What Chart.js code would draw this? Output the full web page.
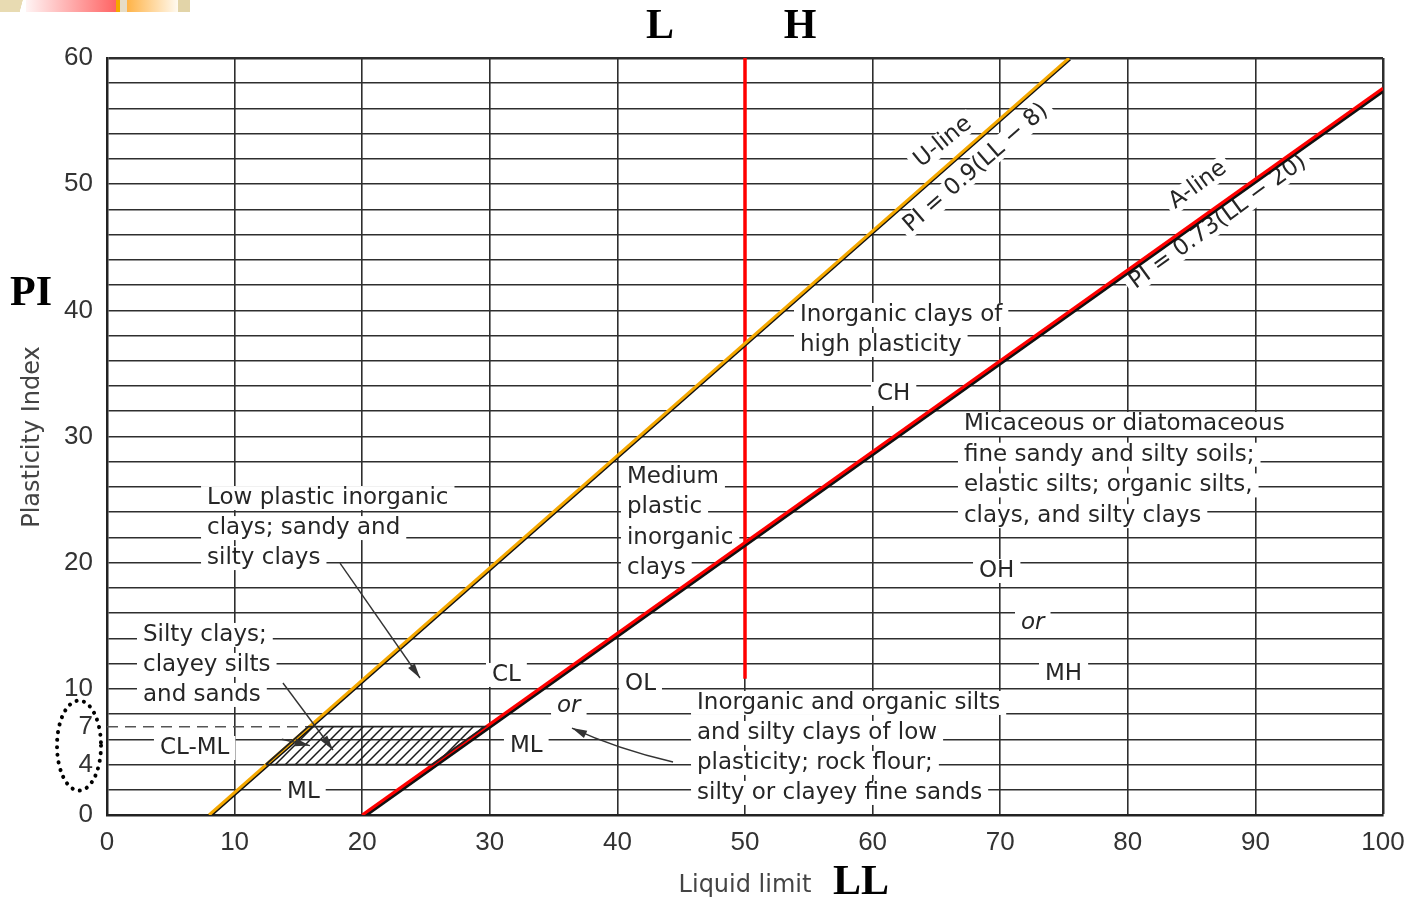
<!DOCTYPE html>
<html>
<head>
<meta charset="utf-8">
<title>Plasticity chart</title>
<script src="https://cdn.jsdelivr.net/npm/chart.js@4.4.0/dist/chart.umd.min.js"></script>
<style>
  body { margin: 0; background: #fff; }
  #wrap { position: relative; width: 1405px; height: 901px; }
  .strip { position: absolute; top: 0; height: 12px; }
</style>
</head>
<body>
<div id="wrap">
  <canvas id="plasticityChart"></canvas>
  <div class="strip" style="left:0;width:25px;background:linear-gradient(105deg,#e8dbb2 80%,#fff 82%)"></div>
  <div class="strip" style="left:26px;width:90px;background:linear-gradient(90deg,#fff4f4,#ff6464)"></div>
  <div class="strip" style="left:116px;width:4px;background:#f5a800"></div>
  <div class="strip" style="left:120px;width:7px;background:#e6dcc6"></div>
  <div class="strip" style="left:127px;width:51px;background:linear-gradient(90deg,#ffb347,#fffaf0)"></div>
  <div class="strip" style="left:178px;width:12px;background:#e2d4a8"></div>
</div>
<script>
// line data (LL on x, PI on y)
var uLineLL = [8, 75.4];
var uLinePI = [0, 60];
var aLineLL = [20, 100];
var aLinePI = [0, 57.6];
var splitLL = [50, 50];
var splitPI = [10.8, 60];
var clmlLL = [12.44, 25.48, 29.59, 15.78, 12.44];
var clmlPI = [4, 4, 7, 7, 4];
var dashLL = [0, 15.78];
var dashPI = [7, 7];

// axis ticks
var xTicks = [0, 10, 20, 30, 40, 50, 60, 70, 80, 90, 100];
var yGrid = [0, 2, 4, 6, 7, 8, 10, 12, 14, 16, 18, 20, 22, 24, 26, 28, 30, 32, 34, 36, 38, 40, 42, 44, 46, 48, 50, 52, 54, 56, 58, 60];
var yTickLabels = [0, 4, 7, 10, 20, 30, 40, 50, 60];

function pts(xs, ys) {
  return xs.map(function (v, i) { return { x: v, y: ys[i] }; });
}

function hatchPattern() {
  var c = document.createElement('canvas');
  c.width = 10; c.height = 10;
  var g = c.getContext('2d');
  g.strokeStyle = '#1a1a1a';
  g.lineWidth = 1.5;
  g.beginPath();
  g.moveTo(0, 10); g.lineTo(10, 0);
  g.moveTo(-5, 5); g.lineTo(5, -5);
  g.moveTo(5, 15); g.lineTo(15, 5);
  g.stroke();
  return g.createPattern(c, 'repeat');
}

var labelFont = '23px "DejaVu Sans"';
var labels = [
  { lines: ['Low plastic inorganic', 'clays; sandy and', 'silty clays'], ll: 7.84, pi: 25.12, gap: 30 },
  { lines: ['Silty clays;', 'clayey silts', 'and sands'], ll: 2.82, pi: 14.27, gap: 30 },
  { lines: ['CL-ML'], ll: 4.15, pi: 5.31 },
  { lines: ['ML'], ll: 14.11, pi: 1.82 },
  { lines: ['CL'], ll: 30.17, pi: 11.1 },
  { lines: ['or'], ll: 35.27, pi: 8.64, italic: true },
  { lines: ['ML'], ll: 31.58, pi: 5.47 },
  { lines: ['OL'], ll: 40.6, pi: 10.38 },
  { lines: ['Inorganic and organic silts', 'and silty clays of low', 'plasticity; rock flour;', 'silty or clayey fine sands'], ll: 46.24, pi: 8.88, gap: 30 },
  { lines: ['Medium', 'plastic', 'inorganic', 'clays'], ll: 40.75, pi: 26.79, gap: 30.3 },
  { lines: ['Inorganic clays of', 'high plasticity'], ll: 54.31, pi: 39.63, gap: 30 },
  { lines: ['CH'], ll: 60.34, pi: 33.37 },
  { lines: ['Micaceous or diatomaceous', 'fine sandy and silty soils;', 'elastic silts; organic silts,', 'clays, and silty clays'], ll: 67.16, pi: 30.99, gap: 30.7 },
  { lines: ['OH'], ll: 68.34, pi: 19.34 },
  { lines: ['or'], ll: 71.63, pi: 15.22, italic: true },
  { lines: ['MH'], ll: 73.51, pi: 11.18 }
];
var slanted = [
  { text: 'U-line', ll: 65.52, pi: 53.34, angle: -39 },
  { text: 'PI = 0.9(LL \u2212 8)', ll: 68.1, pi: 51.28, angle: -41 },
  { text: 'A-line', ll: 85.5, pi: 49.93, angle: -36 },
  { text: 'PI = 0.73(LL \u2212 20)', ll: 87.07, pi: 47.0, angle: -36 }
];
var arrows = [
  { from: [18.26, 19.97], to: [24.53, 10.86] },
  { from: [13.79, 10.46], to: [17.71, 5.15] },
  { from: [13.7, 6.0], to: [15.9, 5.5] },
  { from: [44.36, 4.2], ctrl: [40.0, 5.23], to: [36.44, 6.89] }
];

var labelPlugin = {
  id: 'regionLabels',
  beforeDatasetsDraw: function (chart) {
    var ctx = chart.ctx, xs = chart.scales.x, ys = chart.scales.y;
    ctx.save();
    ctx.textBaseline = 'middle';
    ctx.textAlign = 'left';
    labels.forEach(function (lb) {
      ctx.font = (lb.italic ? 'italic ' : '') + labelFont;
      var x = xs.getPixelForValue(lb.ll), y0 = ys.getPixelForValue(lb.pi);
      lb.lines.forEach(function (t, i) {
        var y = y0 + i * (lb.gap || 30);
        var w = ctx.measureText(t).width;
        ctx.fillStyle = '#fff';
        ctx.fillRect(x - 6, y - 12, w + 12, 24);
      });
    });
    labels.forEach(function (lb) {
      ctx.font = (lb.italic ? 'italic ' : '') + labelFont;
      var x = xs.getPixelForValue(lb.ll), y0 = ys.getPixelForValue(lb.pi);
      ctx.fillStyle = '#262626';
      lb.lines.forEach(function (t, i) {
        ctx.fillText(t, x, y0 + i * (lb.gap || 30));
      });
    });
    ctx.font = '23px "DejaVu Sans"';
    ctx.textAlign = 'center';
    slanted.forEach(function (s) {
      var x = xs.getPixelForValue(s.ll), y = ys.getPixelForValue(s.pi);
      var w = ctx.measureText(s.text).width;
      ctx.save();
      ctx.translate(x, y);
      ctx.rotate(s.angle * Math.PI / 180);
      ctx.fillStyle = '#fff';
      ctx.fillRect(-w / 2 - 5, -11, w + 10, 22);
      ctx.fillStyle = '#262626';
      ctx.fillText(s.text, 0, 0);
      ctx.restore();
    });
    ctx.restore();
  },
  afterDatasetsDraw: function (chart) {
    var ctx = chart.ctx, xs = chart.scales.x, ys = chart.scales.y;
    ctx.save();
    ctx.strokeStyle = '#333';
    ctx.fillStyle = '#333';
    ctx.lineWidth = 1.4;
    arrows.forEach(function (a) {
      var x1 = xs.getPixelForValue(a.from[0]), y1 = ys.getPixelForValue(a.from[1]);
      var x2 = xs.getPixelForValue(a.to[0]), y2 = ys.getPixelForValue(a.to[1]);
      var hx = x1, hy = y1;
      ctx.beginPath();
      ctx.moveTo(x1, y1);
      if (a.ctrl) {
        hx = xs.getPixelForValue(a.ctrl[0]);
        hy = ys.getPixelForValue(a.ctrl[1]);
        ctx.quadraticCurveTo(hx, hy, x2, y2);
      } else {
        ctx.lineTo(x2, y2);
      }
      ctx.stroke();
      var ang = Math.atan2(y2 - hy, x2 - hx);
      ctx.beginPath();
      ctx.moveTo(x2, y2);
      ctx.lineTo(x2 - 15 * Math.cos(ang) + 4 * Math.sin(ang), y2 - 15 * Math.sin(ang) - 4 * Math.cos(ang));
      ctx.lineTo(x2 - 15 * Math.cos(ang) - 4 * Math.sin(ang), y2 - 15 * Math.sin(ang) + 4 * Math.cos(ang));
      ctx.closePath();
      ctx.fill();
    });
    ctx.restore();
  },
  afterDraw: function (chart) {
    var ctx = chart.ctx, ys = chart.scales.y;
    ctx.save();
    ctx.fillStyle = '#444';
    ctx.font = '24px "DejaVu Sans"';
    ctx.textAlign = 'center';
    ctx.textBaseline = 'middle';
    ctx.fillText('Liquid limit', 745, 886);
    ctx.save();
    ctx.translate(33, 437);
    ctx.rotate(-Math.PI / 2);
    ctx.fillText('Plasticity Index', 0, 0);
    ctx.restore();
    ctx.fillStyle = '#000';
    ctx.font = 'bold 42px "Liberation Serif"';
    ctx.fillText('L', 660, 27);
    ctx.fillText('H', 800, 27);
    ctx.fillText('PI', 31, 294);
    ctx.fillText('LL', 861, 883);
    // dotted ring round the 4 and 7 labels
    var cy = (ys.getPixelForValue(4) + ys.getPixelForValue(7)) / 2;
    ctx.strokeStyle = '#000';
    ctx.lineWidth = 4;
    ctx.lineCap = 'round';
    ctx.setLineDash([0.1, 7.5]);
    ctx.beginPath();
    ctx.ellipse(79, cy, 22, 45, 0, 0, Math.PI * 2);
    ctx.stroke();
    ctx.restore();
  }
};

var shadowPlugin = {
  id: 'lineShadow',
  beforeDatasetDraw: function (chart, args) {
    var ds = chart.data.datasets[args.index];
    if (!ds.shadow) return;
    var ctx = chart.ctx;
    ctx.save();
    ctx.shadowColor = '#111';
    ctx.shadowOffsetX = ds.shadow * 0.7;
    ctx.shadowOffsetY = ds.shadow;
    ctx.shadowBlur = 0;
  },
  afterDatasetDraw: function (chart, args) {
    if (chart.data.datasets[args.index].shadow) chart.ctx.restore();
  }
};

var gridColor = '#2e2e2e';

new Chart(document.getElementById('plasticityChart'), {
  type: 'scatter',
  data: {
    datasets: [
      {
        label: 'CL-ML',
        data: pts(clmlLL, clmlPI),
        showLine: true,
        fill: 'shape',
        backgroundColor: hatchPattern(),
        borderColor: '#222',
        borderWidth: 1.8,
        pointRadius: 0
      },
      {
        label: 'PI = 7',
        data: pts(dashLL, dashPI),
        showLine: true,
        borderColor: '#555',
        borderWidth: 1.4,
        borderDash: [11, 7],
        pointRadius: 0
      },
      {
        label: 'U-line',
        data: pts(uLineLL, uLinePI),
        showLine: true,
        borderColor: '#f5a800',
        borderWidth: 3,
        pointRadius: 0,
        shadow: 1.2
      },
      {
        label: 'A-line',
        data: pts(aLineLL, aLinePI),
        showLine: true,
        borderColor: '#ff0000',
        borderWidth: 3.2,
        pointRadius: 0,
        shadow: 2
      },
      {
        label: 'LL = 50',
        data: pts(splitLL, splitPI),
        showLine: true,
        borderColor: '#ff0000',
        borderWidth: 3.5,
        pointRadius: 0
      }
    ]
  },
  options: {
    responsive: true,
    maintainAspectRatio: false,
    animation: false,
    events: [],
    layout: { autoPadding: false, padding: { top: 58, right: 22, left: 0, bottom: 0 } },
    plugins: { legend: { display: false }, tooltip: { enabled: false } },
    scales: {
      x: {
        type: 'linear',
        min: 0,
        max: 100,
        afterBuildTicks: function (scale) {
          scale.ticks = xTicks.map(function (v) { return { value: v }; });
        },
        afterFit: function (scale) {
          scale.height = 86;
          scale.paddingLeft = 0;
          scale.paddingRight = 0;
        },
        ticks: {
          autoSkip: false,
          maxRotation: 0,
          padding: 12,
          color: '#333',
          font: { family: '"Liberation Sans"', size: 26 }
        },
        grid: {
          drawTicks: false,
          color: gridColor,
          lineWidth: function (c) { return c.tick && c.tick.value === 100 ? 2.5 : 1.6; }
        },
        border: { display: true, color: '#222', width: 2.5 }
      },
      y: {
        type: 'linear',
        min: 0,
        max: 60,
        afterBuildTicks: function (scale) {
          scale.ticks = yGrid.map(function (v) { return { value: v }; });
        },
        afterFit: function (scale) {
          scale.width = 107;
          scale.paddingTop = 0;
          scale.paddingBottom = 0;
        },
        ticks: {
          autoSkip: false,
          padding: 14,
          color: '#333',
          font: { family: '"Liberation Sans"', size: 26 },
          callback: function (v) { return yTickLabels.indexOf(v) >= 0 ? String(v) : ''; }
        },
        grid: {
          drawTicks: false,
          color: function (c) { return c.tick && c.tick.value === 7 ? 'rgba(0,0,0,0)' : gridColor; },
          lineWidth: function (c) { return c.tick && c.tick.value === 60 ? 2.5 : 1.6; }
        },
        border: { display: true, color: '#222', width: 2.5 }
      }
    }
  },
  plugins: [labelPlugin, shadowPlugin]
});
</script>
</body>
</html>
